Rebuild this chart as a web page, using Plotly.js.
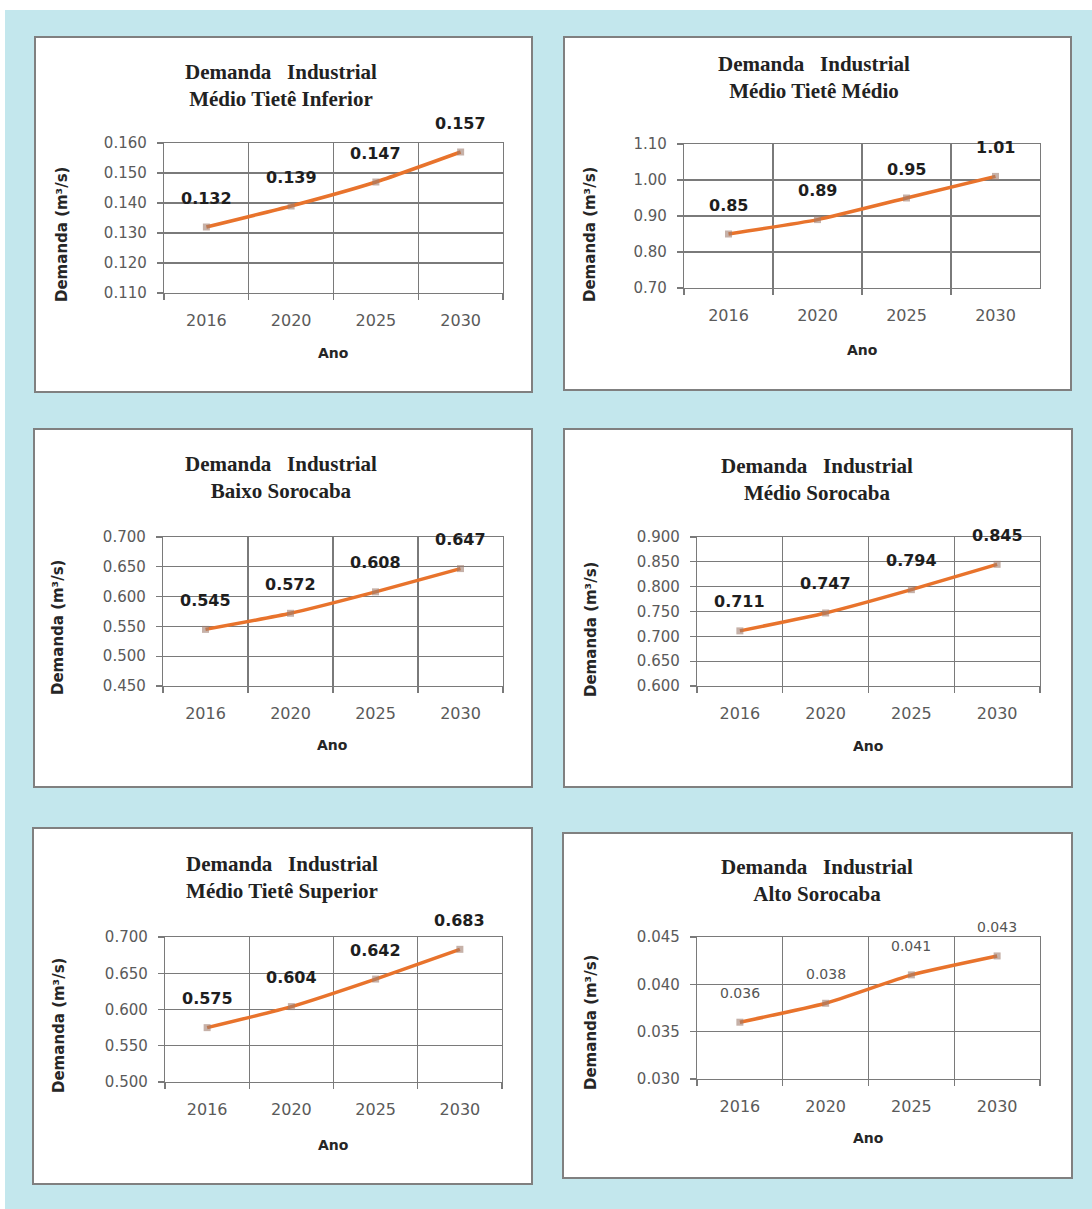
<!DOCTYPE html>
<html>
<head>
<meta charset="utf-8">
<script src="https://cdn.plot.ly/plotly-3.0.1.min.js"></script>
<style>
  html, body { margin: 0; padding: 0; background: #ffffff; }
  #chart { width: 1092px; height: 1209px; }
</style>
</head>
<body>
<div id="chart"></div>
<script>
// Industrial water demand (m³/s) per sub-basin, projected by year
const years = ['2016', '2020', '2025', '2030'];

const medioTieteInferior = [0.132, 0.139, 0.147, 0.157];
const medioTieteMedio    = [0.85, 0.89, 0.95, 1.01];
const baixoSorocaba      = [0.545, 0.572, 0.608, 0.647];
const medioSorocaba      = [0.711, 0.747, 0.794, 0.845];
const medioTieteSuperior = [0.575, 0.604, 0.642, 0.683];
const altoSorocaba       = [0.036, 0.038, 0.041, 0.043];

const subBasins = ['Médio Tietê Inferior', 'Médio Tietê Médio', 'Baixo Sorocaba',
                   'Médio Sorocaba', 'Médio Tietê Superior', 'Alto Sorocaba'];

const titleMain = 'Demanda\u00a0\u00a0\u00a0Industrial';
const yTitle = 'Demanda (m³/s)';
const xTitle = 'Ano';

// page geometry (pixels)
const W = 1092, H = 1209;
const px = x => x / W;
const py = y => 1 - y / H;

const series = [medioTieteInferior, medioTieteMedio, baixoSorocaba,
                medioSorocaba, medioTieteSuperior, altoSorocaba];

// per-panel axis scale and layout boxes
const panels = [
  { range: [0.110, 0.160], dtick: 0.01, dec: 3, box: [35, 37, 532, 392],  plot: [164, 143, 503, 293], title: [281, 85],  ytl: [62, 235],  xtl: [333, 353],  bold: true },
  { range: [0.70, 1.10],   dtick: 0.10, dec: 2, box: [564, 37, 1071, 390], plot: [684, 144, 1040, 288], title: [814, 78],  ytl: [590, 235], xtl: [862, 350],  bold: true },
  { range: [0.450, 0.700], dtick: 0.05, dec: 3, box: [34, 429, 532, 787], plot: [163, 537, 503, 686], title: [281, 478], ytl: [58, 628],  xtl: [332, 745],  bold: true },
  { range: [0.600, 0.900], dtick: 0.05, dec: 3, box: [564, 429, 1072, 787], plot: [697, 537, 1040, 686], title: [817, 480], ytl: [591, 630], xtl: [868, 746],  bold: true },
  { range: [0.500, 0.700], dtick: 0.05, dec: 3, box: [33, 828, 532, 1184], plot: [165, 937, 502, 1082], title: [282, 877], ytl: [59, 1026], xtl: [333, 1145], bold: true },
  { range: [0.030, 0.045], dtick: 0.005, dec: 3, box: [563, 833, 1072, 1178], plot: [697, 937, 1040, 1079], title: [817, 880], ytl: [591, 1023], xtl: [868, 1138], bold: false }
];

const gridColor = '#7a7a7a';
const tickColor = '#5a5a5a';
const lineColor = '#e8732c';

const traces = [];
const layout = {
  width: W, height: H,
  margin: { l: 0, r: 0, t: 0, b: 0 },
  paper_bgcolor: '#ffffff',
  plot_bgcolor: '#ffffff',
  showlegend: false,
  shapes: [],
  annotations: []
};

// light blue page background
layout.shapes.push({
  type: 'rect', xref: 'paper', yref: 'paper', layer: 'below',
  x0: px(5), x1: 1, y0: 0, y1: py(10),
  fillcolor: '#c3e7ed', line: { width: 0 }
});

panels.forEach((p, i) => {
  const k = i === 0 ? '' : String(i + 1);
  const xa = 'x' + k, ya = 'y' + k;
  const [bx0, by0, bx1, by1] = p.box;
  const [pl, pt, pr, pb] = p.plot;

  // white chart panel with grey frame
  layout.shapes.push({
    type: 'rect', xref: 'paper', yref: 'paper', layer: 'below',
    x0: px(bx0), x1: px(bx1), y0: py(by1), y1: py(by0),
    fillcolor: '#ffffff', line: { color: '#808080', width: 2 }
  });

  layout['xaxis' + k] = {
    domain: [px(pl), px(pr)], anchor: ya,
    type: 'category', range: [-0.5, 3.5], tickson: 'boundaries',
    ticks: 'outside', ticklen: 6, tickcolor: gridColor, tickwidth: 1.2,
    showgrid: true, gridcolor: gridColor, gridwidth: 1.2,
    showline: true, linecolor: gridColor, linewidth: 1.2, mirror: true,
    zeroline: false, ticklabelstandoff: 13,
    tickfont: { family: 'DejaVu Sans', size: 16, color: tickColor },
    fixedrange: true
  };
  layout['yaxis' + k] = {
    domain: [py(pb), py(pt)], anchor: xa,
    range: p.range, tick0: p.range[0], dtick: p.dtick,
    tickformat: '.' + p.dec + 'f',
    ticks: 'outside', ticklen: 6, tickcolor: gridColor, tickwidth: 1.2,
    showgrid: true, gridcolor: gridColor, gridwidth: 1.2,
    showline: true, linecolor: gridColor, linewidth: 1.2, mirror: true,
    zeroline: false, ticklabelstandoff: 7,
    tickfont: { family: 'DejaVu Sans', size: 15, color: tickColor },
    fixedrange: true
  };

  traces.push({
    type: 'scatter', mode: 'lines+markers',
    x: years, y: series[i], xaxis: xa, yaxis: ya,
    line: { color: lineColor, width: 3.5, shape: 'spline', smoothing: 0.5 },
    marker: { symbol: 'square', size: 7, color: 'rgba(160,125,110,0.6)' },
    cliponaxis: false, hoverinfo: 'skip'
  });

  // value labels above each point (x given as category index)
  series[i].forEach((v, j) => {
    layout.annotations.push({
      xref: xa, yref: ya, x: j, y: v,
      text: v.toFixed(p.dec), showarrow: false,
      yanchor: 'middle', xanchor: 'center', yshift: 29,
      font: p.bold
        ? { family: 'DejaVu Sans', size: 16, color: '#1e1e1e', weight: 'bold' }
        : { family: 'DejaVu Sans', size: 14, color: '#555555' }
    });
  });

  // chart title (two lines)
  layout.annotations.push({
    xref: 'paper', yref: 'paper', x: px(p.title[0]), y: py(p.title[1]),
    xanchor: 'center', yanchor: 'middle', showarrow: false,
    text: '<b>' + titleMain + '<br>' + subBasins[i] + '</b>',
    font: { family: 'Liberation Serif', size: 21, color: '#222222' }
  });

  // axis titles
  layout.annotations.push({
    xref: 'paper', yref: 'paper', x: px(p.ytl[0]), y: py(p.ytl[1]),
    xanchor: 'center', yanchor: 'middle', showarrow: false, textangle: -90,
    text: '<b>' + yTitle + '</b>',
    font: { family: 'DejaVu Sans', size: 15, color: '#262626' }
  });
  layout.annotations.push({
    xref: 'paper', yref: 'paper', x: px(p.xtl[0]), y: py(p.xtl[1]),
    xanchor: 'center', yanchor: 'middle', showarrow: false,
    text: '<b>' + xTitle + '</b>',
    font: { family: 'DejaVu Sans', size: 14, color: '#262626' }
  });
});

Plotly.newPlot('chart', traces, layout, { staticPlot: true, displayModeBar: false });
</script>
</body>
</html>
